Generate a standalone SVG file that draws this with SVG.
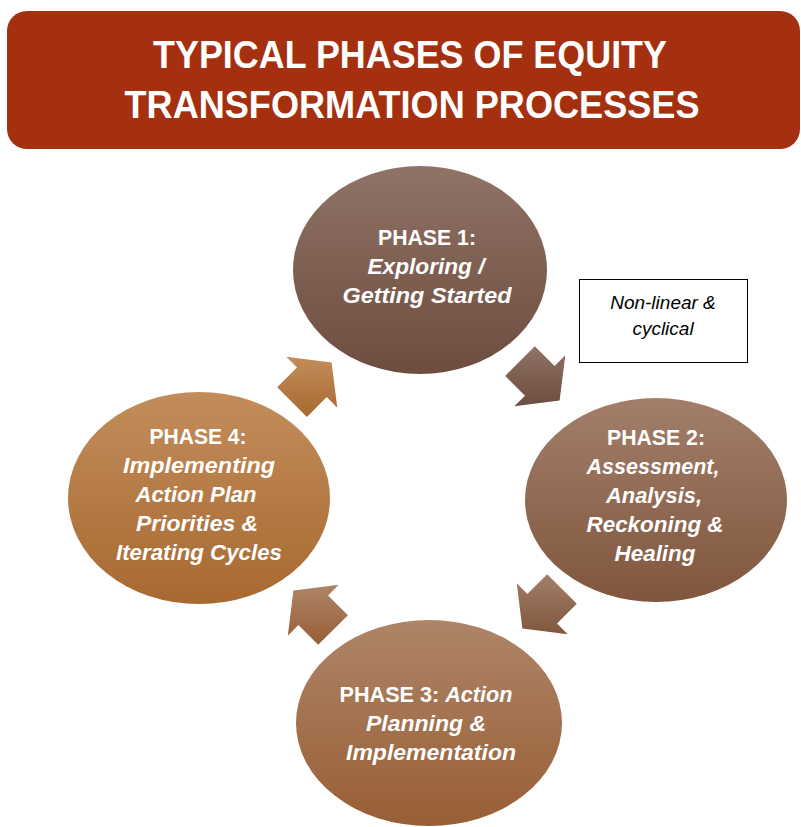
<svg xmlns="http://www.w3.org/2000/svg" width="801" height="827" viewBox="0 0 801 827">
<defs>
<linearGradient id="g1" x1="0" y1="0" x2="0" y2="1"><stop offset="0" stop-color="#8f7366"/><stop offset="1" stop-color="#6d4d40"/></linearGradient>
<linearGradient id="g2" x1="0" y1="0" x2="0" y2="1"><stop offset="0" stop-color="#a27e6a"/><stop offset="1" stop-color="#80563d"/></linearGradient>
<linearGradient id="g3" x1="0" y1="0" x2="0" y2="1"><stop offset="0" stop-color="#ae8567"/><stop offset="1" stop-color="#985e36"/></linearGradient>
<linearGradient id="g4" x1="0" y1="0" x2="0" y2="1"><stop offset="0" stop-color="#c28d5b"/><stop offset="1" stop-color="#a86930"/></linearGradient>
<style>
.title{font-family:"Liberation Sans",Arial,sans-serif;font-weight:bold;font-size:38px;fill:#ffffff;text-anchor:middle}
.ph{font-family:"Liberation Sans",Arial,sans-serif;font-weight:bold;font-size:22px;fill:#ffffff;text-anchor:middle}
.it{font-style:italic}
.note{font-family:"Liberation Sans",Arial,sans-serif;font-style:italic;font-size:19px;fill:#000000;text-anchor:middle}
</style>
</defs>
<rect width="801" height="827" fill="#ffffff"/>
<g id="title">
<rect x="7" y="11" width="793" height="138" rx="20" ry="20" fill="#a5300f"/>
<text class="title" x="410" y="68" textLength="514" lengthAdjust="spacingAndGlyphs">TYPICAL PHASES OF EQUITY</text>
<text class="title" x="412" y="118" textLength="575" lengthAdjust="spacingAndGlyphs">TRANSFORMATION PROCESSES</text>
</g>
<g id="connectors">
<polygon fill="url(#g1)" points="534.8,346.2 554.6,366.0 565.3,355.3 559.6,400.6 514.3,406.3 525.0,395.7 505.2,375.9"/>
<polygon fill="url(#g2)" points="576.8,603.8 557.0,623.6 567.7,634.3 522.4,628.6 516.7,583.3 527.4,594.0 547.2,574.2"/>
<polygon fill="url(#g3)" points="318.2,644.8 298.4,625.1 287.8,635.7 293.4,590.4 338.7,584.8 328.1,595.4 347.9,615.2"/>
<polygon fill="url(#g4)" points="277.2,387.2 297.0,367.4 286.3,356.8 331.6,362.4 337.3,407.7 326.7,397.1 306.9,416.9"/>
</g>
<g id="phase1">
<ellipse cx="420" cy="270" rx="127" ry="104" fill="url(#g1)"/>
<text class="ph" x="427" y="245" textLength="98" lengthAdjust="spacingAndGlyphs">PHASE 1:</text>
<text class="ph it" x="426" y="274" textLength="117" lengthAdjust="spacingAndGlyphs">Exploring /</text>
<text class="ph it" x="427" y="303" textLength="169" lengthAdjust="spacingAndGlyphs">Getting Started</text>
</g>
<g id="phase2">
<ellipse cx="656" cy="500" rx="131" ry="102" fill="url(#g2)"/>
<text class="ph" x="656" y="445" textLength="98" lengthAdjust="spacingAndGlyphs">PHASE 2:</text>
<text class="ph it" x="653" y="474" textLength="133" lengthAdjust="spacingAndGlyphs">Assessment,</text>
<text class="ph it" x="654" y="503" textLength="96" lengthAdjust="spacingAndGlyphs">Analysis,</text>
<text class="ph it" x="655" y="532" textLength="137" lengthAdjust="spacingAndGlyphs">Reckoning &amp;</text>
<text class="ph it" x="655" y="561" textLength="81" lengthAdjust="spacingAndGlyphs">Healing</text>
</g>
<g id="phase3">
<ellipse cx="429" cy="723" rx="133" ry="103" fill="url(#g3)"/>
<text class="ph" x="426" y="702" textLength="173" lengthAdjust="spacingAndGlyphs">PHASE 3: <tspan class="it">Action</tspan></text>
<text class="ph it" x="426" y="731" textLength="120" lengthAdjust="spacingAndGlyphs">Planning &amp;</text>
<text class="ph it" x="431" y="760" textLength="170" lengthAdjust="spacingAndGlyphs">Implementation</text>
</g>
<g id="phase4">
<ellipse cx="199" cy="498" rx="131" ry="106" fill="url(#g4)"/>
<text class="ph" x="198" y="444" textLength="97" lengthAdjust="spacingAndGlyphs">PHASE 4:</text>
<text class="ph it" x="199" y="473" textLength="152" lengthAdjust="spacingAndGlyphs">Implementing</text>
<text class="ph it" x="196" y="502" textLength="121" lengthAdjust="spacingAndGlyphs">Action Plan</text>
<text class="ph it" x="197" y="531" textLength="122" lengthAdjust="spacingAndGlyphs">Priorities &amp;</text>
<text class="ph it" x="199" y="560" textLength="166" lengthAdjust="spacingAndGlyphs">Iterating Cycles</text>
</g>
<g id="note">
<rect x="579.5" y="279.5" width="168" height="83" fill="#ffffff" stroke="#000000" stroke-width="1"/>
<text class="note" x="663" y="309">Non-linear &amp;</text>
<text class="note" x="663" y="335">cyclical</text>
</g>
</svg>
